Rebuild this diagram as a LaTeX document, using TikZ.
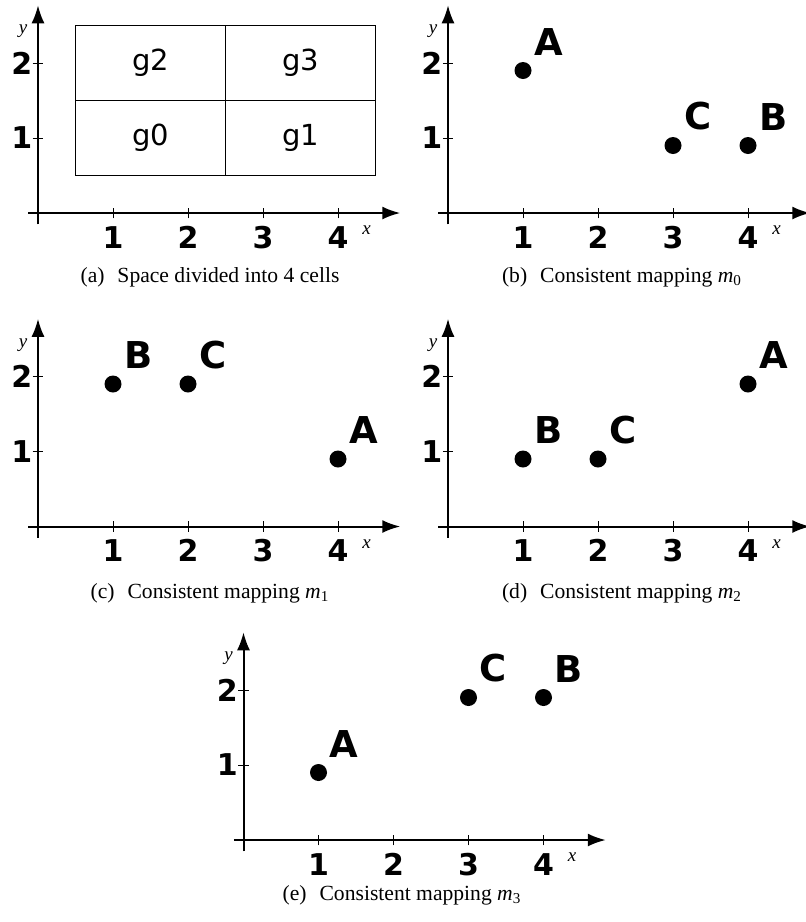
\documentclass[tikz,border=0pt]{standalone}
\usepackage{fontspec}
\setmainfont{Liberation Serif}
\newfontfamily\dejavu{DejaVu Sans}
\usetikzlibrary{positioning, arrows.meta}

% one set of axes, drawn in the current scope
\newcommand{\mapaxes}{%
  \coordinate (xs) at (-0.13,0);
  \coordinate (xe) at (4.83,0);
  \coordinate (ys) at (0,-0.15);
  \coordinate (ye) at (0,2.77);
  \draw[axisline] (xs) -- (xe);
  \draw[axisline] (ys) -- (ye);
  \foreach \i in {1,...,4} {
    \draw[tickmark] (\i,-0.07) -- (\i,0.07);
    \node[ticklabel, anchor=north] (xt\i) at (\i,-0.17) {\i};
  }
  \foreach \j in {1,2} {
    \draw[tickmark] (-0.07,\j) -- (0.07,\j);
    \node[ticklabel, anchor=east] (yt\j) at (-0.07,\j) {\j};
  }
  \node[axlabel] (xl) at (4.38,-0.23) {x};
  \node[axlabel] (yl) at (-0.2,2.42) {y};
}

\begin{document}
\begin{tikzpicture}[
  x=37.5pt, y=37.5pt,
  axisline/.style={line width=1pt, -{Latex[length=9pt, width=6.5pt]}},
  tickmark/.style={line width=0.5pt},
  ticklabel/.style={font=\dejavu\bfseries\fontsize{15}{18}\selectfont, inner sep=0pt},
  ptlabel/.style={font=\dejavu\bfseries\fontsize{18.5}{22}\selectfont, inner sep=0pt},
  axlabel/.style={font=\itshape\fontsize{9.5}{11}\selectfont, inner sep=0pt},
  cell/.style={rectangle, draw, line width=0.65pt, minimum width=75pt,
               minimum height=37.5pt, font=\dejavu\fontsize{14.5}{17}\selectfont},
  dot/.style={circle, fill=black, inner sep=0pt, minimum size=8.5pt},
  subcap/.style={font=\fontsize{10.8}{13}\selectfont, anchor=base},
]
\useasboundingbox (0,0) rectangle (402.5pt,-461pt);

% (a) the four cells
\begin{scope}[shift={(19pt,-106.5pt)}]
  \mapaxes
  \node[cell] (g0) at (1.5,1) {g0};
  \node[cell] (g1) at (3.5,1) {g1};
  \node[cell] (g2) at (1.5,2) {g2};
  \node[cell] (g3) at (3.5,2) {g3};
\end{scope}

% (b) mapping m0
\begin{scope}[shift={(224pt,-106.5pt)}]
  \mapaxes
  \node[dot] (bA) at (1,1.9) {};
  \node[dot] (bC) at (3,0.9) {};
  \node[dot] (bB) at (4,0.9) {};
  \node[ptlabel, above right=4.25pt and 2.25pt of bA] (bA-l) {A};
  \node[ptlabel, above right=4.25pt and 2.25pt of bC] (bC-l) {C};
  \node[ptlabel, above right=4.25pt and 2.25pt of bB] (bB-l) {B};
\end{scope}

% (c) mapping m1
\begin{scope}[shift={(19pt,-263.25pt)}]
  \mapaxes
  \node[dot] (cB) at (1,1.9) {};
  \node[dot] (cC) at (2,1.9) {};
  \node[dot] (cA) at (4,0.9) {};
  \node[ptlabel, above right=4.25pt and 2.25pt of cB] (cB-l) {B};
  \node[ptlabel, above right=4.25pt and 2.25pt of cC] (cC-l) {C};
  \node[ptlabel, above right=4.25pt and 2.25pt of cA] (cA-l) {A};
\end{scope}

% (d) mapping m2
\begin{scope}[shift={(224pt,-263.25pt)}]
  \mapaxes
  \node[dot] (dB) at (1,0.9) {};
  \node[dot] (dC) at (2,0.9) {};
  \node[dot] (dA) at (4,1.9) {};
  \node[ptlabel, above right=4.25pt and 2.25pt of dB] (dB-l) {B};
  \node[ptlabel, above right=4.25pt and 2.25pt of dC] (dC-l) {C};
  \node[ptlabel, above right=4.25pt and 2.25pt of dA] (dA-l) {A};
\end{scope}

% (e) mapping m3
\begin{scope}[shift={(121.75pt,-420pt)}]
  \mapaxes
  \node[dot] (eA) at (1,0.9) {};
  \node[dot] (eC) at (3,1.9) {};
  \node[dot] (eB) at (4,1.9) {};
  \node[ptlabel, above right=4.25pt and 2.25pt of eA] (eA-l) {A};
  \node[ptlabel, above right=4.25pt and 2.25pt of eC] (eC-l) {C};
  \node[ptlabel, above right=4.25pt and 2.25pt of eB] (eB-l) {B};
\end{scope}

% Captions
\node[subcap] (capa) at (105pt,-141pt) {(a)\hspace{0.6em}Space divided into 4 cells};
\node[subcap] (capb) at (311pt,-141pt) {(b)\hspace{0.6em}Consistent mapping \textit{m}\textsubscript{0}};
\node[subcap] (capc) at (105pt,-299pt) {(c)\hspace{0.6em}Consistent mapping \textit{m}\textsubscript{1}};
\node[subcap] (capd) at (311pt,-299pt) {(d)\hspace{0.6em}Consistent mapping \textit{m}\textsubscript{2}};
\node[subcap] (cape) at (201pt,-450pt) {(e)\hspace{0.6em}Consistent mapping \textit{m}\textsubscript{3}};

\end{tikzpicture}
\end{document}
